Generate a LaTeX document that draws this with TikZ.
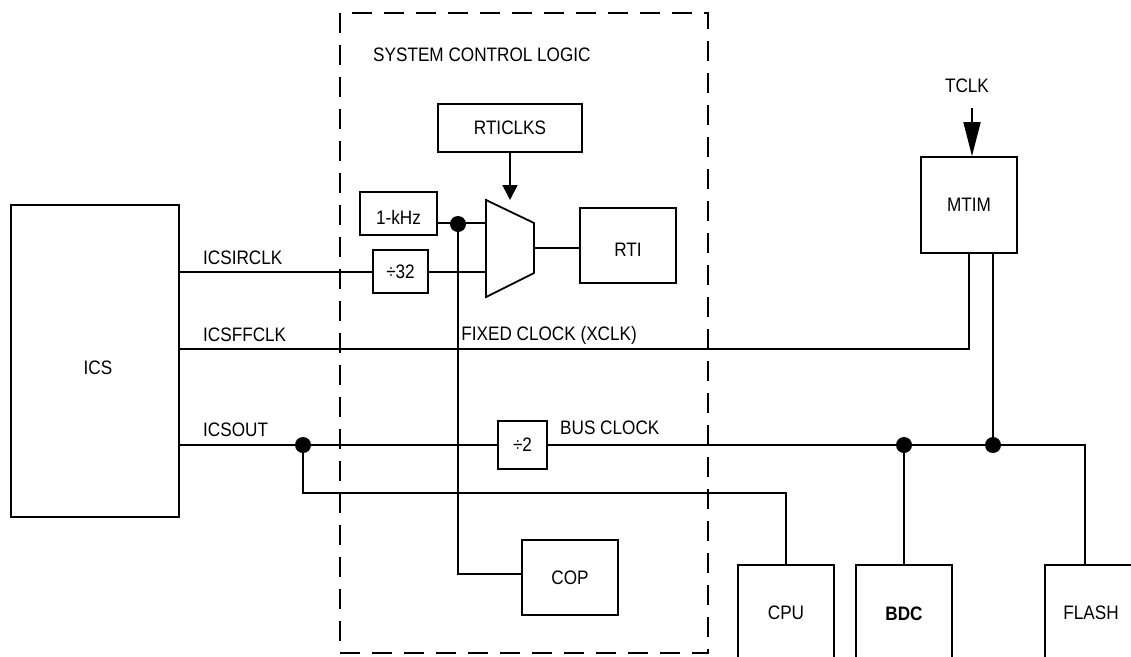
\documentclass[tikz,border=0pt]{standalone}
\usepackage{fontspec}
\setmainfont{Liberation Sans}[FakeStretch=0.88]
\usetikzlibrary{arrows.meta}
\begin{document}
\begin{tikzpicture}[x=1pt,y=-1pt,
  every node/.style={font=\fontsize{19.5}{22}\selectfont},
  blk/.style={draw,line width=1.8pt,inner sep=0pt},
  lbl/.style={inner sep=0pt},
  wire/.style={line width=1.8pt},
  dot/.style={circle,fill,inner sep=0pt,minimum size=16pt}]
\useasboundingbox (0,0) rectangle (1131,656);
\clip (0,0) rectangle (1131,656);
% dashed region
\draw[line width=1.8pt,dash pattern=on 20pt off 12pt] (340,13) rectangle (708,653);
\node[lbl,anchor=west] (scl) at (373,55) {SYSTEM CONTROL LOGIC};
% blocks
\node[blk,minimum width=168pt,minimum height=312pt] (ics) at (95,361) {};
\node[lbl] at (98,368) {ICS};
\node[blk,minimum width=77pt,minimum height=43pt] (khz) at (398.5,213.5) {};
\node[lbl] at (398.5,217) {1-kHz};
\node[blk,minimum width=55pt,minimum height=43pt] (d32) at (400.5,271.5) {÷32};
\node[blk,minimum width=144pt,minimum height=48pt] (rticlks) at (510,128) {RTICLKS};
\node[blk,minimum width=96pt,minimum height=75pt] (rti) at (628,245.5) {};
\node[lbl] at (628,250) {RTI};
\node[blk,minimum width=96pt,minimum height=96pt] (mtim) at (969,205) {MTIM};
\node[blk,minimum width=96pt,minimum height=75pt] (cop) at (570,577.5) {COP};
\node[blk,minimum width=49pt,minimum height=48pt] (d2) at (522.5,445) {÷2};
\node[blk,minimum width=96pt,minimum height=200pt] (cpu) at (786,665) {};
\node[lbl] at (786,613) {CPU};
\node[blk,minimum width=96pt,minimum height=200pt] (bdc) at (904,665) {};
\node[lbl] at (904,614) {\bfseries BDC};
\node[blk,minimum width=96pt,minimum height=200pt] (flash) at (1093,665) {};
\node[lbl] at (1091,613) {FLASH};
% mux
\coordinate (m1) at (486,200);
\coordinate (m2) at (534,223);
\coordinate (m3) at (534,273);
\coordinate (m4) at (486,297);
\draw[wire,line join=miter] (m1) -- (m2) -- (m3) -- (m4) -- cycle;
\coordinate (mout) at (534,248);
\coordinate (min1) at (486,223);
\coordinate (min2) at (486,272);
\coordinate (mtop) at (510,200);
% labels
\node[lbl,anchor=west] at (203,257.5) {ICSIRCLK};
\node[lbl,anchor=west] at (203,335) {ICSFFCLK};
\node[lbl,anchor=west] at (203,430) {ICSOUT};
\node[lbl,anchor=east] at (637,335) {FIXED CLOCK (XCLK)};
\node[lbl,anchor=west] at (560,428) {BUS CLOCK};
\node[lbl] (tclk) at (967,86) {TCLK};
% dots
\node[dot] (dk) at (458,224) {};
\node[dot] (dics) at (303,445) {};
\node[dot] (dbdc) at (904,445) {};
\node[dot] (dmt) at (993,445) {};
% wires
\draw[wire] (ics.east |- 0,272) -- (d32.west |- 0,272);
\draw[wire] (d32.east |- 0,272) -- (min2);
\draw[wire] (khz.east |- 0,223) -- (min1);
\draw[wire] (dk.center) -- (458,574) -- (cop.west |- 0,574);
\draw[wire] (mout) -- (rti.west |- mout);
\draw[wire,-{Triangle[length=15pt,width=15pt]}] (rticlks.south) -- (mtop);
\draw[wire,-{Triangle[length=34pt,width=17pt]}] (972,108) -- (mtim.north -| 972,0);
\draw[wire] (ics.east |- 0,349) -- (969,349) -- (mtim.south -| 969,0);
\draw[wire] (mtim.south -| 993,0) -- (dmt.center);
\draw[wire] (ics.east |- 0,445) -- (d2.west);
\draw[wire] (d2.east) -- (1085,445) -- (flash.north -| 1085,0);
\draw[wire] (dics.center) -- (303,493) -- (786,493) -- (cpu.north);
\draw[wire] (dbdc.center) -- (bdc.north);
\end{tikzpicture}
\end{document}
